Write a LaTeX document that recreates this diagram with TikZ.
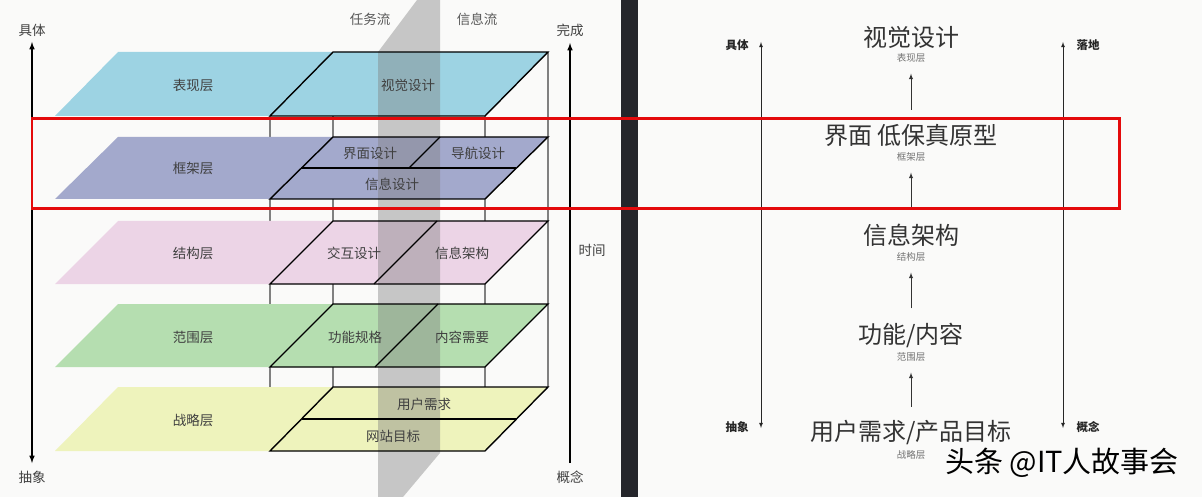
\documentclass[tikz,border=0pt]{standalone}
\usepackage{fontspec}
\usepackage{pdfrender}
\setmainfont{Noto Sans CJK SC}
\usetikzlibrary{positioning}
\definecolor{bgc}{HTML}{FAFAF9}
\definecolor{darkbar}{HTML}{25262B}
\definecolor{bxcyan}{HTML}{9DD3E3}
\definecolor{kjblue}{HTML}{A3A9CC}
\definecolor{jgpink}{HTML}{ECD4E6}
\definecolor{fwgreen}{HTML}{B5DEB0}
\definecolor{zlyellow}{HTML}{EEF3BC}
\definecolor{frame}{HTML}{E40A0C}
\begin{document}
\begin{tikzpicture}[x=1pt,y=-1pt,
	plane/.style={draw=black,line width=1.4pt},
	boxline/.style={draw=black!50,line width=1.2pt},
	lab/.style={font={\fontsize{13.5}{13.5}\selectfont},text=black!75,inner sep=0pt},
	big/.style={font={\fontsize{24}{24}\selectfont},text=black!80,inner sep=0pt},
	sub/.style={font={\fontsize{9.5}{9.5}\selectfont},text=black!55,inner sep=0pt},
	axlab/.style={font={\bfseries\fontsize{11.5}{11.5}\selectfont},text=black!85,inner sep=0pt},
	up/.style={-latex,line width=0.9pt,draw=black!80,shorten <=14pt,shorten >=11pt},
	wm/.style={font={\fontsize{29}{29}\selectfont},inner sep=0pt}]
	\useasboundingbox (0,0) rectangle (1202,497);
	\fill[bgc] (0,0) rectangle (1202,497);
	% box behind the layers
	\draw[boxline] (270,116)--(270,451);
	\draw[boxline] (485,116)--(485,451);
	\draw[boxline] (333,52)--(333,387);
	\draw[boxline] (548,52)--(548,387);
	% layers
	\fill[bxcyan] (55,116)--(118,52)--(548,52)--(485,116)--cycle;
	\fill[kjblue] (55,199)--(118,137)--(548,137)--(485,199)--cycle;
	\fill[jgpink] (55,284)--(118,221)--(548,221)--(485,284)--cycle;
	\fill[fwgreen] (55,367)--(118,304)--(548,304)--(485,367)--cycle;
	\fill[zlyellow] (55,451)--(118,387)--(548,387)--(485,451)--cycle;
	% flow band
	\fill[black!50,opacity=0.42] (378,52)--(417,0)--(440,0)--(440,453)--(403,497)--(378,497)--cycle;
	\draw[plane] (270,116)--(333,52)--(548,52)--(485,116)--cycle;
	\draw[plane] (270,199)--(333,137)--(548,137)--(485,199)--cycle;
	\draw[plane] (301,168)--(516,168);
	\draw[plane] (440,137)--(409,168);
	\draw[plane] (270,284)--(333,221)--(548,221)--(485,284)--cycle;
	\draw[plane] (437,221)--(374,284);
	\draw[plane] (270,367)--(333,304)--(548,304)--(485,367)--cycle;
	\draw[plane] (438,304)--(375,367);
	\draw[plane] (270,451)--(333,387)--(548,387)--(485,451)--cycle;
	\draw[plane] (302,419)--(517,419);
	\node[lab] (bxl) at (193,85) {表现层};
	\node[lab] (kjl) at (193,168) {框架层};
	\node[lab] (jgl) at (193,253) {结构层};
	\node[lab] (fwl) at (193,337) {范围层};
	\node[lab] (zll) at (193,420) {战略层};
	\node[lab] (sjsj) at (408,85) {视觉设计};
	\node[lab] (jmsj) at (370,153) {界面设计};
	\node[lab] (dhsj) at (478,153) {导航设计};
	\node[lab] (xxsj) at (392,184) {信息设计};
	\node[lab] (jhsj) at (354,253) {交互设计};
	\node[lab] (xxjg) at (462,253) {信息架构};
	\node[lab] (gngg) at (355,337) {功能规格};
	\node[lab] (nrxy) at (462,337) {内容需要};
	\node[lab] (yhxq) at (424,404) {用户需求};
	\node[lab] (wzmb) at (393,436) {网站目标};
	\node[lab,text=black!65] (rwl) at (370,19) {任务流};
	\node[lab,text=black!65] (xxl) at (477,19) {信息流};
	% axes of the left panel
	\node[lab] (jt) at (32,30) {具体};
	\node[lab] (cx) at (32,477) {抽象};
	\node[lab] (wc) at (570,30) {完成};
	\node[lab] (gn1) at (570,477) {概念};
	\node[lab] (sj) at (592,250) {时间};
	\coordinate (at) at (32,42);
	\coordinate (ab) at (32,463);
	\coordinate (bt) at (570,43);
	\coordinate (bb) at (570,463);
	\draw[latex-latex,line width=1.5pt] (at)--(ab);
	\draw[-latex,line width=1.5pt] (bb)--(bt);
	\fill[darkbar] (621,0) rectangle (638,497);
	% right panel
	\node[big] (v) at (911,37) {视觉设计};
	\node[sub] (vs) at (911,58) {表现层};
	\node[big] (k) at (911,135) {界面 低保真原型};
	\node[sub] (ks) at (911,157) {框架层};
	\node[big] (j) at (911,235) {信息架构};
	\node[sub] (js) at (911,257) {结构层};
	\node[big] (f) at (911,335) {功能/内容};
	\node[sub] (fs) at (911,357) {范围层};
	\node[big] (z) at (911,433) {用户需求/产品目标};
	\node[sub] (zs) at (911,455) {战略层};
	\draw[up] (k)--(vs);
	\draw[up] (j)--(ks);
	\draw[up] (f)--(js);
	\draw[up] (z)--(fs);
	\node[axlab] (jt2) at (737,45) {具体};
	\node[axlab] (cx2) at (737,427) {抽象};
	\node[axlab] (ld) at (1088,45) {落地};
	\node[axlab] (gn2) at (1088,427) {概念};
	\coordinate (lt) at (761,42);
	\coordinate (lb) at (761,428);
	\coordinate (rt) at (1063,42);
	\coordinate (rb) at (1063,428);
	\draw[latex-latex,line width=0.8pt,black!85] (lt)--(lb);
	\draw[latex-latex,line width=0.8pt,black!85] (rt)--(rb);
	% watermark
	\node[wm] (wm) at (1062,463) {\textpdfrender{TextRenderingMode=Stroke,LineWidth=1.1}{头条 @IT人故事会}};
	% highlight
	\draw[frame,line width=2.8pt] (32,118.5) rectangle (1119.5,208.5);
\end{tikzpicture}
\end{document}
